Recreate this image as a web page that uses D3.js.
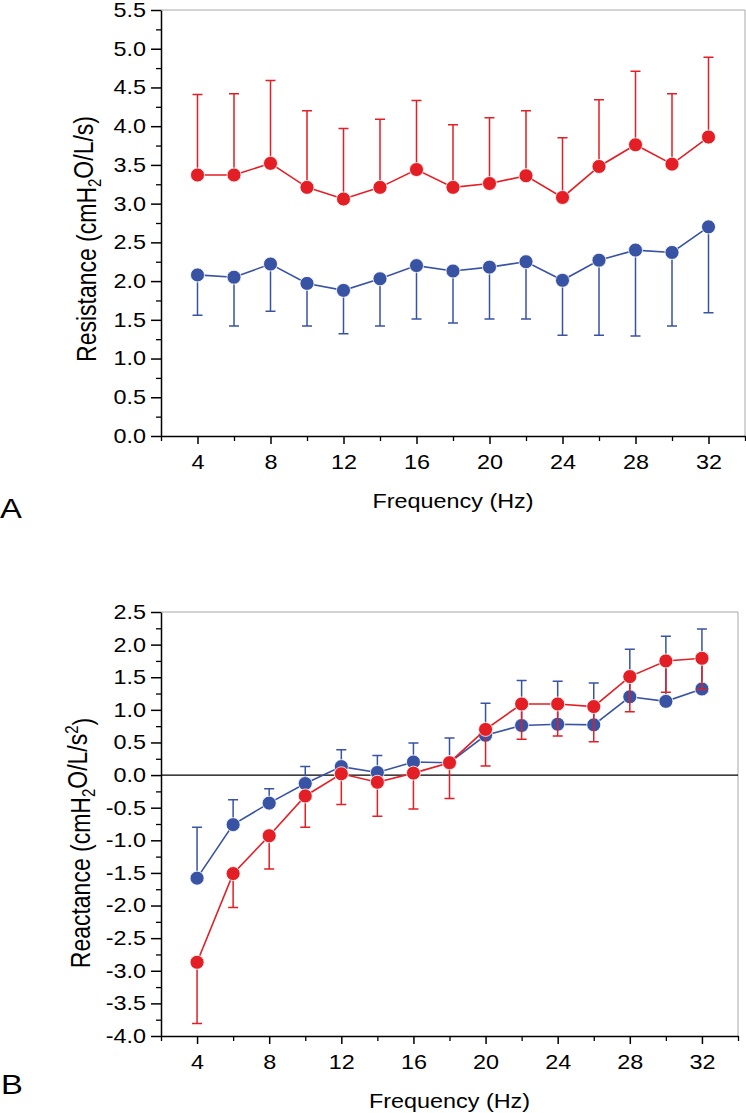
<!DOCTYPE html>
<html>
<head>
<meta charset="utf-8">
<script src="https://cdn.jsdelivr.net/npm/d3@7"></script>
<style>
  body { margin: 0; background: #fff; }
  text { font-family: "Liberation Sans", Arial, sans-serif; fill: #000; }
</style>
</head>
<body>
<script>
const W = 746, H = 1113;
const SX = 1.17; // the original lettering is a bit wider than Arial
const red = "#e31e24", blue = "#3953a4";

// frequency (Hz)
const freq = [4, 6, 8, 10, 12, 14, 16, 18, 20, 22, 24, 26, 28, 30, 32];
const xMajor = [4, 8, 12, 16, 20, 24, 28, 32];
const xMinor = [2, 6, 10, 14, 18, 22, 26, 30, 34];

// panel A: resistance, mean and the end of the one-sided error bar
const resRedMean  = [3.37, 3.37, 3.52, 3.21, 3.06, 3.21, 3.44, 3.21, 3.26, 3.36, 3.08, 3.48, 3.76, 3.51, 3.86];
const resRedBar   = [4.41, 4.42, 4.59, 4.20, 3.97, 4.09, 4.33, 4.02, 4.11, 4.20, 3.85, 4.34, 4.71, 4.42, 4.89];
const resBlueMean = [2.08, 2.05, 2.22, 1.97, 1.88, 2.03, 2.20, 2.13, 2.18, 2.25, 2.01, 2.27, 2.40, 2.37, 2.70];
const resBlueBar  = [1.56, 1.42, 1.61, 1.42, 1.32, 1.42, 1.51, 1.46, 1.51, 1.51, 1.30, 1.30, 1.29, 1.42, 1.59];

// panel B: reactance
const reaBlueMean = [-1.58, -0.76, -0.43, -0.13, 0.13, 0.04, 0.20, 0.19, 0.61, 0.76, 0.78, 0.77, 1.20, 1.13, 1.32];
const reaBlueBar  = [-0.80, -0.38, -0.21, 0.13, 0.39, 0.30, 0.49, 0.57, 1.10, 1.45, 1.44, 1.41, 1.93, 2.13, 2.24];
const reaRedMean  = [-2.87, -1.51, -0.93, -0.32, 0.02, -0.11, 0.03, 0.19, 0.70, 1.09, 1.09, 1.05, 1.51, 1.75, 1.79];
const reaRedBar   = [-3.81, -2.03, -1.44, -0.80, -0.45, -0.63, -0.52, -0.36, 0.14, 0.55, 0.60, 0.51, 0.97, 1.27, 1.31];

const resTicks = d3.range(0, 5.51, 0.5);
const reaTicks = d3.range(-4, 2.51, 0.5);

const svg = d3.select("body").append("svg")
    .attr("width", W)
    .attr("height", H);

const fmt = d => d3.format(".1f")(d).replace("\u2212", "-");

function drawPanel(p) {
    const left = 161;
    const x = d3.scaleLinear().domain([2, 34]).range([left, p.right]);
    const y = d3.scaleLinear().domain(p.yDomain).range([p.bottom, p.top]);
    const g = svg.append("g");

    // grey frame top and right
    g.append("path")
        .attr("d", `M${left},${p.top}H${p.right}V${p.bottom}`)
        .attr("fill", "none")
        .attr("stroke", "#a8a8a8")
        .attr("stroke-width", 1);

    if (p.zeroLine) {
        g.append("line")
            .attr("x1", left).attr("x2", p.right)
            .attr("y1", y(0)).attr("y2", y(0))
            .attr("stroke", "#000")
            .attr("stroke-width", 1.2);
    }

    // minor ticks
    const minorY = p.yTicks.slice(0, -1).map(v => v + 0.25);
    const yMin = g.append("g")
        .attr("transform", `translate(${left},0)`)
        .call(d3.axisLeft(y).tickValues(minorY).tickSize(5).tickSizeOuter(0).tickFormat(""));
    yMin.select(".domain").remove();
    yMin.selectAll("line").attr("stroke-width", 1.3);

    const xMin = g.append("g")
        .attr("transform", `translate(0,${p.bottom})`)
        .call(d3.axisBottom(x).tickValues(xMinor).tickSize(5).tickSizeOuter(0).tickFormat(""));
    xMin.select(".domain").remove();
    xMin.selectAll("line").attr("stroke-width", 1.3);

    // major axes
    const yAx = g.append("g")
        .attr("transform", `translate(${left},0)`)
        .call(d3.axisLeft(y).tickValues(p.yTicks).tickSize(10).tickPadding(5)
            .tickSizeOuter(0).tickFormat(fmt));
    yAx.attr("font-family", null).attr("font-size", null);
    yAx.selectAll("line, .domain").attr("stroke-width", 1.5);
    yAx.selectAll("text")
        .style("font-size", "20px")
        .each(function () {
            const t = d3.select(this);
            const tx = +t.attr("x");
            t.attr("x", 0).attr("transform", `translate(${tx},0) scale(${SX},1)`);
        });

    const xAx = g.append("g")
        .attr("transform", `translate(0,${p.bottom})`)
        .call(d3.axisBottom(x).tickValues(xMajor).tickSize(8).tickPadding(11)
            .tickSizeOuter(0));
    xAx.attr("font-family", null).attr("font-size", null);
    xAx.selectAll("line, .domain").attr("stroke-width", 1.5);
    xAx.selectAll("text")
        .style("font-size", "20px")
        .attr("transform", `scale(${SX},1)`);

    // axis titles
    g.append("text")
        .attr("transform", `translate(${(left + p.right) / 2},${p.bottom + 72}) scale(${SX},1)`)
        .attr("text-anchor", "middle")
        .style("font-size", "20px")
        .text("Frequency (Hz)");

    const yt = g.append("text")
        .attr("transform", `translate(${p.titleX},${p.titleY}) scale(${SX},1) rotate(-90)`)
        .attr("text-anchor", "middle")
        .style("font-size", "23px");
    yt.append("tspan").text(p.yLabel[0] + " (cmH");
    yt.append("tspan").attr("dy", "0.3em").style("font-size", "15px").text("2");
    yt.append("tspan").attr("dy", "-0.3em").text("O/L/s");
    if (p.yLabel[1]) {
        yt.append("tspan").attr("dy", "-0.55em").style("font-size", "15px").text("2");
        yt.append("tspan").attr("dy", "0.55em").text(")");
    } else {
        yt.append("tspan").text(")");
    }

    // panel letter
    g.append("text")
        .attr("transform", `translate(${p.letterX},${p.letterY}) scale(${SX},1)`)
        .style("font-size", "28px")
        .text(p.letter);

    // series
    const line = d3.line().x(d => x(d.f)).y(d => y(d.m));
    p.series.forEach(s => {
        const data = freq.map((f, i) => ({ f: f, m: s.mean[i], e: s.bar[i] }));
        const sg = g.append("g");

        sg.selectAll(".bar")
            .data(data)
            .enter()
            .append("path")
            .attr("d", d => `M${x(d.f)},${y(d.m)}V${y(d.e)}M${x(d.f) - 5},${y(d.e)}H${x(d.f) + 5}`)
            .attr("fill", "none")
            .attr("stroke", s.color)
            .attr("stroke-width", 1.5);

        sg.append("path")
            .datum(data)
            .attr("d", line)
            .attr("fill", "none")
            .attr("stroke", s.color)
            .attr("stroke-width", 1.6);

        sg.selectAll(".dot")
            .data(data)
            .enter()
            .append("circle")
            .attr("cx", d => x(d.f))
            .attr("cy", d => y(d.m))
            .attr("r", 7)
            .attr("fill", s.color)
            .attr("stroke", "#fff")
            .attr("stroke-width", 0.8);
    });
}

drawPanel({
    top: 10, bottom: 436, right: 745,
    yDomain: [0, 5.5], yTicks: resTicks,
    yLabel: ["Resistance", false],
    titleX: 96, titleY: 239,
    letter: "A", letterX: 0, letterY: 518,
    zeroLine: false,
    series: [
        { mean: resBlueMean, bar: resBlueBar, color: blue },
        { mean: resRedMean, bar: resRedBar, color: red }
    ]
});

drawPanel({
    top: 612, bottom: 1036, right: 738,
    yDomain: [-4, 2.5], yTicks: reaTicks,
    yLabel: ["Reactance", true],
    titleX: 90, titleY: 843,
    letter: "B", letterX: 1, letterY: 1094,
    zeroLine: true,
    series: [
        { mean: reaBlueMean, bar: reaBlueBar, color: blue },
        { mean: reaRedMean, bar: reaRedBar, color: red }
    ]
});
</script>
</body>
</html>
